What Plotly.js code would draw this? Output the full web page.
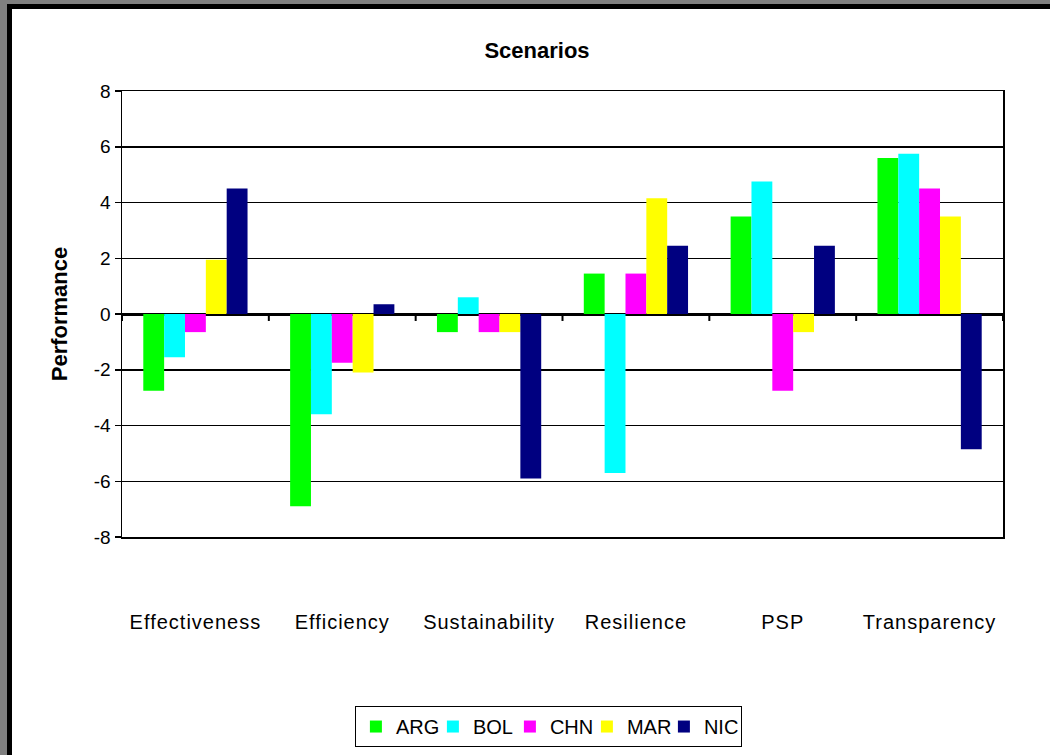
<!DOCTYPE html>
<html>
<head>
<meta charset="utf-8">
<script src="https://cdn.plot.ly/plotly-3.0.1.min.js"></script>
<style>
  html, body { margin: 0; padding: 0; background: #808080; width: 1050px; height: 755px; overflow: hidden; }
  #frame { position: absolute; left: 7px; top: 4px; width: 1043px; height: 751px;
           border-left: 5px solid #000; border-top: 5px solid #000; background: #fff; }
  #chart { width: 1038px; height: 746px; }
  .xtick text { letter-spacing: 1px; }
</style>
</head>
<body>
<div id="frame"><div id="chart"></div></div>
<script>
const categories = ["Effectiveness", "Efficiency", "Sustainability", "Resilience", "PSP", "Transparency"];
const seriesNames = ["ARG", "BOL", "CHN", "MAR", "NIC"];
const ARG = [-2.75, -6.9, -0.65, 1.45, 3.5, 5.6];
const BOL = [-1.55, -3.6, 0.6, -5.7, 4.75, 5.75];
const CHN = [-0.65, -1.75, -0.65, 1.45, -2.75, 4.5];
const MAR = [1.95, -2.1, -0.65, 4.15, -0.65, 3.5];
const NIC = [4.5, 0.35, -5.9, 2.45, 2.45, -4.85];
const yTicks = [-8, -6, -4, -2, 0, 2, 4, 6, 8];

const values = [ARG, BOL, CHN, MAR, NIC];
const colors = ["#00FF00", "#00FFFF", "#FF00FF", "#FFFF00", "#000080"];

const traces = seriesNames.map((name, i) => ({
  type: "bar",
  name: name,
  x: categories,
  y: values[i],
  marker: { color: colors[i], line: { width: 0 } },
  hoverinfo: "x+y+name"
}));

// small tick marks at category boundaries on the zero line
const shapes = [];
for (let i = 0; i <= categories.length; i++) {
  shapes.push({
    type: "line", xref: "x", yref: "y",
    x0: i - 0.5, x1: i - 0.5, y0: 0, y1: -0.25,
    line: { color: "#000", width: 2 }
  });
}

const layout = {
  width: 1038, height: 746,
  margin: { l: 110, r: 47, t: 82, b: 218, autoexpand: false },
  paper_bgcolor: "#fff",
  plot_bgcolor: "#fff",
  font: { family: "Liberation Sans, Arial, sans-serif", color: "#000" },
  title: {
    text: "<b>Scenarios</b>",
    font: { size: 22, color: "#000" },
    xref: "container", x: 0.5058, xanchor: "center",
    yref: "container", y: 0.945, yanchor: "middle"
  },
  barmode: "group",
  bargap: 0.29,
  bargroupgap: 0,
  showlegend: true,
  legend: {
    orientation: "h",
    x: 0.484, xanchor: "center",
    y: -0.379, yanchor: "top",
    bordercolor: "#000", borderwidth: 1, bgcolor: "#fff",
    font: { size: 20, color: "#000" },
    itemwidth: 30,
    entrywidth: 32, entrywidthmode: "pixels",
    traceorder: "normal"
  },
  xaxis: {
    type: "category",
    range: [-0.5, categories.length - 0.5],
    showgrid: false,
    zeroline: false,
    showline: true, mirror: true, linecolor: "#000", linewidth: 1.5,
    ticks: "",
    ticklabelstandoff: 66,
    tickfont: { size: 20, color: "#000" },
    fixedrange: true
  },
  yaxis: {
    range: [-8, 8],
    tickvals: yTicks,
    ticktext: yTicks.map(String),
    showgrid: true, gridcolor: "#000", gridwidth: 1.5,
    zeroline: true, zerolinecolor: "#000", zerolinewidth: 3,
    showline: true, mirror: true, linecolor: "#000", linewidth: 1.5,
    ticks: "outside", ticklen: 6, tickwidth: 1.5, tickcolor: "#000",
    tickfont: { size: 19, color: "#000" },
    title: { text: "<b>Performance</b>", font: { size: 22, color: "#000" }, standoff: 20 },
    fixedrange: true
  },
  shapes: shapes
};

Plotly.newPlot("chart", traces, layout, { displayModeBar: false, staticPlot: true });
</script>
</body>
</html>
